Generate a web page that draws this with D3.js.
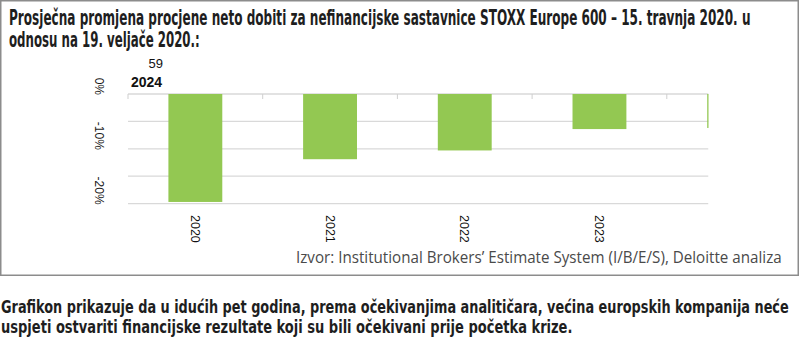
<!DOCTYPE html>
<html>
<head>
<meta charset="utf-8">
<script src="https://cdn.jsdelivr.net/npm/d3@7"></script>
<style>
  html, body { margin: 0; padding: 0; background: #fff; }
  svg { display: block; }
</style>
</head>
<body>
<svg id="chart" width="800" height="339"></svg>
<script>
// Forecast years and average change of net-profit estimates (%)
const years = ["2020", "2021", "2022", "2023", "2024"];
const changes = [-19.7, -11.9, -10.3, -6.4, -6.2];
const gridTicks = [0, -5, -10, -15, -20];
const labelTicks = [0, -10, -20];

const titleLines = [
  "Prosječna promjena procjene neto dobiti za nefinancijske sastavnice STOXX Europe 600 – 15. travnja 2020. u",
  "odnosu na 19. veljače 2020.:"
];
const sourceText = "Izvor: Institutional Brokers’ Estimate System (I/B/E/S), Deloitte analiza";
const noteLines = [
  "Grafikon prikazuje da u idućih pet godina, prema očekivanjima analitičara, većina europskih kompanija neće",
  "uspjeti ostvariti financijske rezultate koji su bili očekivani prije početka krize."
];

const svg = d3.select("#chart");
const condensed = "'Liberation Sans Narrow', 'DejaVu Sans Condensed', 'Roboto Condensed', Arial, sans-serif";

// squeeze a text line horizontally so it spans the given width
function fitWidth(sel, x0, y0, width) {
  sel.each(function (d, i) {
    const natural = this.getComputedTextLength();
    const w = typeof width === "function" ? width(d, i) : width;
    const yy = typeof y0 === "function" ? y0(d, i) : y0;
    d3.select(this).attr("transform", `translate(${x0},${yy}) scale(${w / natural},1)`);
  });
}

// outer frame
svg.append("rect")
  .attr("x", 0.75).attr("y", 0.75)
  .attr("width", 797.5).attr("height", 274.5)
  .attr("fill", "none").attr("stroke", "#8c8c8c").attr("stroke-width", 1.5);

// title
const titleWidths = [742, 191];
svg.selectAll("text.title").data(titleLines).join("text")
  .attr("class", "title")
  .attr("font-family", condensed)
  .attr("font-weight", "bold")
  .attr("font-size", 20.5)
  .attr("fill", "#1e1e1e")
  .text(d => d)
  .call(fitWidth, 9, (d, i) => 25 + i * 22, (d, i) => titleWidths[i]);

// scales
const x = d3.scaleBand().domain(years)
  .range([128, 128 + 134.7 * years.length])
  .paddingInner(0.6).paddingOuter(0.3);
const y = d3.scaleLinear().domain([-20, 0]).range([203.6, 94]);
const plotRight = 708.5;

svg.append("defs").append("clipPath").attr("id", "plotClip")
  .append("rect").attr("x", 120).attr("y", 60).attr("width", plotRight - 120).attr("height", 160);

const plot = svg.append("g").attr("clip-path", "url(#plotClip)");

// horizontal gridlines
plot.selectAll("line.grid").data(gridTicks).join("line")
  .attr("class", "grid")
  .attr("x1", 128).attr("x2", plotRight)
  .attr("y1", d => y(d)).attr("y2", d => y(d))
  .attr("stroke", "#d9d9d9").attr("stroke-width", 1.3);

// category ticks below zero line at band boundaries
const step = x.step();
const boundaries = d3.range(years.length).map(i => x.range()[0] + i * step);
plot.selectAll("line.ctick").data(boundaries).join("line")
  .attr("class", "ctick")
  .attr("x1", d => d).attr("x2", d => d)
  .attr("y1", y(0)).attr("y2", y(0) + 5)
  .attr("stroke", "#cfcfcf").attr("stroke-width", 1);

// bars
plot.selectAll("rect.bar").data(years).join("rect")
  .attr("class", "bar")
  .attr("x", d => x(d))
  .attr("width", x.bandwidth())
  .attr("y", y(0))
  .attr("height", (d, i) => y(changes[i]) - y(0))
  .attr("fill", "#93c852");

// y labels, rotated, ending at their gridline
svg.selectAll("text.ylab").data(labelTicks).join("text")
  .attr("class", "ylab")
  .attr("transform", d => `translate(95,${y(d) + 1}) rotate(90)`)
  .attr("text-anchor", "end")
  .attr("font-family", "'Liberation Sans', Arial, sans-serif")
  .attr("font-size", 12)
  .attr("fill", "#1a1a1a")
  .text(d => d + "%");

// x labels, rotated
svg.selectAll("text.xlab").data(years.slice(0, 4)).join("text")
  .attr("class", "xlab")
  .attr("transform", d => `translate(${x(d) + x.bandwidth() / 2 - 4.5},215) rotate(90)`)
  .attr("text-anchor", "start")
  .attr("font-family", "'Liberation Sans', Arial, sans-serif")
  .attr("font-size", 12.5)
  .attr("fill", "#111")
  .text(d => d);

// stray data-table labels above the plot
svg.append("text")
  .attr("x", 163).attr("y", 68)
  .attr("text-anchor", "end")
  .attr("font-family", "'Liberation Sans', Arial, sans-serif")
  .attr("font-size", 13)
  .attr("fill", "#111")
  .text("59");
svg.append("text")
  .attr("x", 131).attr("y", 87)
  .attr("font-family", "'Liberation Sans', Arial, sans-serif")
  .attr("font-weight", "bold")
  .attr("font-size", 14)
  .attr("fill", "#111")
  .text(years[4]);

// source line
svg.append("text")
  .attr("font-family", "'Open Sans', 'Noto Sans', sans-serif")
  .attr("font-size", 15.5)
  .attr("fill", "#4a4a4a")
  .text(sourceText)
  .call(fitWidth, 296, 263, 486);

// note below the frame
const noteWidths = [788, 572];
svg.selectAll("text.note").data(noteLines).join("text")
  .attr("class", "note")
  .attr("font-family", condensed)
  .attr("font-weight", "bold")
  .attr("font-size", 18)
  .attr("fill", "#1e1e1e")
  .text(d => d)
  .call(fitWidth, 1, (d, i) => 313 + i * 20, (d, i) => noteWidths[i]);
</script>
</body>
</html>
